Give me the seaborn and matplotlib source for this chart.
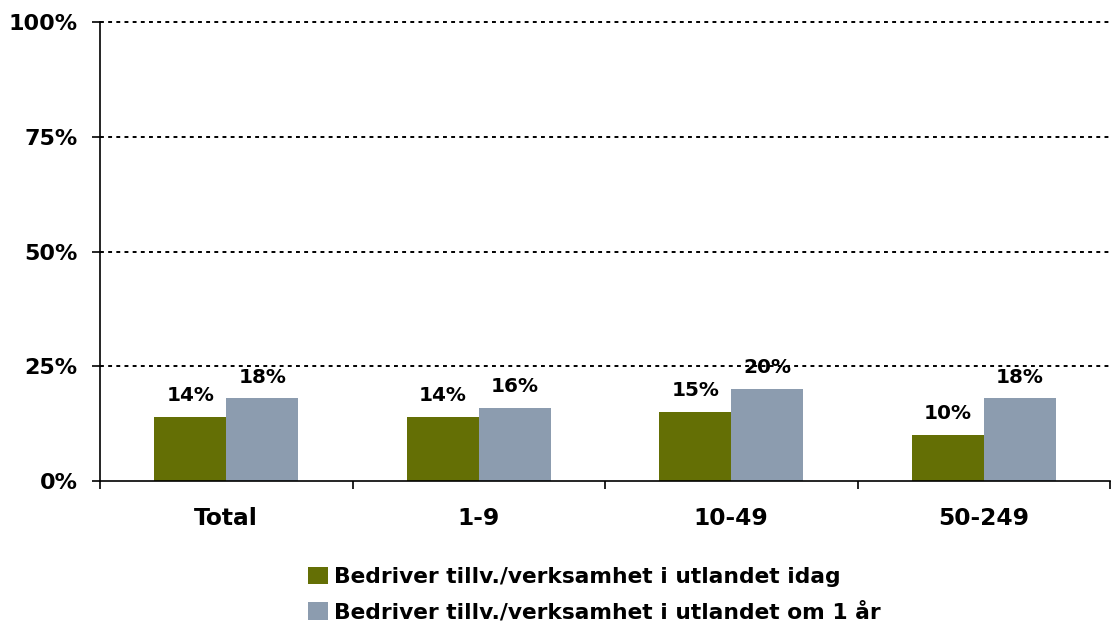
import matplotlib
matplotlib.use("Agg")
import matplotlib.pyplot as plt
import seaborn as sns
import pandas as pd
from matplotlib.patches import Patch

categories = ["Total", "1-9", "10-49", "50-249"]
series_names = ["Bedriver tillv./verksamhet i utlandet idag",
                "Bedriver tillv./verksamhet i utlandet om 1 år"]
idag = [14, 14, 15, 10]
om_1_ar = [18, 16, 20, 18]
colors = ["#646F05", "#8C9CAF"]
yticks = [0, 25, 50, 75, 100]

sns.set_theme(style="white")
plt.rcParams['font.family'] = ['DejaVu Sans']
plt.rcParams['text.color'] = 'black'
plt.rcParams['xtick.color'] = 'black'
plt.rcParams['ytick.color'] = 'black'

df = pd.DataFrame({
    "cat": categories * 2,
    "val": idag + om_1_ar,
    "series": [series_names[0]] * 4 + [series_names[1]] * 4,
})

fig = plt.figure(figsize=(11.12, 6.21), dpi=100)
ax = fig.add_axes([100 / 1112, 1 - 481 / 621, 1010 / 1112, 459 / 621])

sns.barplot(data=df, x="cat", y="val", hue="series", palette=colors,
            width=0.57, saturation=1, ax=ax, legend=False, order=categories,
            hue_order=series_names, linewidth=0, edgecolor="none")

for cont in ax.containers:
    ax.bar_label(cont, labels=[f"{int(v)}%" for v in cont.datavalues],
                 padding=8.5, fontsize=14.4, fontweight="bold", color="black")

ax.set_ylim(0, 100)
ax.set_xlim(-0.5, len(categories) - 0.5)
ax.set_yticks(yticks)
ax.set_yticklabels([f"{v}%" for v in yticks], fontsize=16, fontweight="bold")
ax.set_xticks(range(len(categories)))
ax.set_xticklabels(categories, fontsize=16.8, fontweight="bold")
ax.set_xticks([i - 0.5 for i in range(len(categories) + 1)], minor=True)
ax.tick_params(axis="x", which="major", bottom=True, length=0, pad=18.5)
ax.tick_params(axis="x", which="minor", bottom=True, length=6, width=1.2,
               color="black", direction="out")
ax.tick_params(axis="y", left=True, length=6, width=1.2, color="black",
               direction="out", pad=10)
ax.set_xlabel("")
ax.set_ylabel("")

for v in yticks[1:]:
    ax.axhline(v, color="black", linestyle=(0, (2, 2.2)), linewidth=1.4,
               zorder=0, clip_on=False)

for s in ["top", "right"]:
    ax.spines[s].set_visible(False)
ax.spines["left"].set_color("black")
ax.spines["bottom"].set_color("black")
ax.spines["left"].set_linewidth(1.2)
ax.spines["bottom"].set_linewidth(1.2)

handles = [Patch(facecolor=c, edgecolor="none") for c in colors]
fig.legend(handles, series_names, loc="upper left",
           bbox_to_anchor=(308 / 1112, 1 - 567 / 621), frameon=False,
           prop={"size": 15.7, "weight": "bold"}, handlelength=0.9,
           handleheight=0.85, handletextpad=0.3, labelspacing=0.68,
           borderpad=0, borderaxespad=0)

fig.savefig("out.png", dpi=100)
